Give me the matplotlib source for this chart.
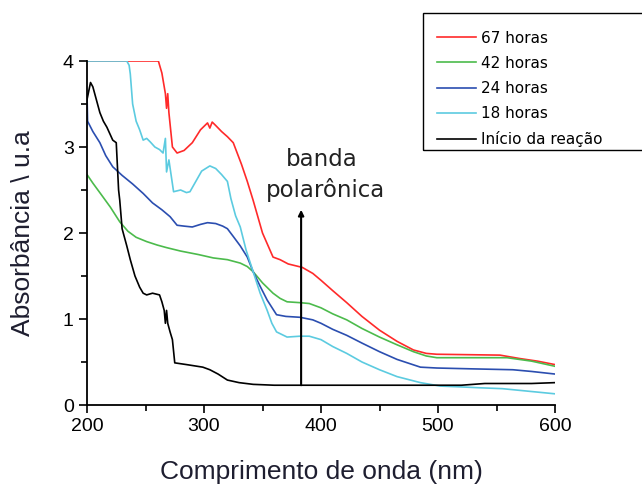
import matplotlib.pyplot as plt
from matplotlib.ticker import MultipleLocator
from matplotlib.patches import Rectangle

# absorbance spectra at different reaction times
x67 = [200, 261, 264, 267, 268, 269, 270, 273, 277, 283, 290, 297, 303, 305, 307, 310, 315, 320, 325, 332, 337,
       342, 350, 359, 365, 372, 384, 393, 400, 410, 422, 435, 450, 465, 479, 490, 499, 553, 570, 585, 600]
y67 = [4.0, 4.0, 3.86, 3.62, 3.45, 3.62, 3.4, 3.0, 2.93, 2.96, 3.05, 3.2, 3.28, 3.22, 3.29, 3.25, 3.18, 3.12, 3.05, 2.8, 2.6,
       2.38, 2.0, 1.72, 1.69, 1.64, 1.6, 1.53, 1.45, 1.33, 1.19, 1.03, 0.87, 0.74, 0.64, 0.6, 0.59, 0.58, 0.54, 0.51, 0.47]

x42 = [200, 205, 212, 220, 228, 235, 242, 251, 260, 268, 280, 295, 308, 320, 331, 337, 342, 350, 359, 365, 371, 382,
       390, 400, 410, 422, 435, 450, 465, 479, 490, 499, 530, 559, 580, 600]
y42 = [2.68, 2.58, 2.45, 2.3, 2.13, 2.02, 1.95, 1.9, 1.86, 1.83, 1.79, 1.75, 1.71, 1.69, 1.65, 1.61, 1.55, 1.42, 1.3, 1.24, 1.2, 1.19,
       1.18, 1.13, 1.06, 0.99, 0.89, 0.79, 0.7, 0.62, 0.57, 0.55, 0.55, 0.55, 0.51, 0.45]

x24 = [200, 200.5, 205, 211, 216, 222, 230, 239, 248, 256, 264, 271, 277, 283, 290, 297, 303, 310, 316, 320, 325, 331,
       337, 342, 348, 354, 362, 370, 382, 393, 400, 410, 422, 435, 450, 465, 485, 499, 530, 564, 580, 600]
y24 = [3.62, 3.3, 3.18, 3.05, 2.9, 2.77, 2.67, 2.57, 2.46, 2.35, 2.27, 2.19, 2.09, 2.08, 2.07, 2.1, 2.12, 2.11, 2.08, 2.05, 1.96, 1.85,
       1.72, 1.55, 1.38, 1.22, 1.05, 1.03, 1.02, 0.99, 0.95, 0.88, 0.81, 0.72, 0.62, 0.53, 0.44, 0.43, 0.42, 0.41, 0.39, 0.36]

x18 = [200, 234, 236, 237, 239, 242, 245, 248, 251, 254, 258, 262, 265, 267, 268, 270, 274, 280, 285, 288, 293, 298,
       305, 310, 315, 320, 323, 327, 331, 336, 342, 348, 354, 358, 362, 371, 382, 390, 400, 410, 422, 435, 450, 465,
       485, 502, 520, 536, 555, 570, 585, 600]
y18 = [4.0, 4.0, 3.95, 3.85, 3.5, 3.3, 3.2, 3.08, 3.1, 3.06, 3.0, 2.97, 2.93, 3.1, 2.71, 2.85, 2.48, 2.5, 2.47, 2.48, 2.6, 2.72,
       2.78, 2.75, 2.68, 2.6, 2.4, 2.2, 2.07, 1.8, 1.55, 1.3, 1.1, 0.95, 0.85, 0.79, 0.8, 0.8, 0.76, 0.68, 0.6, 0.5, 0.41, 0.33,
       0.26, 0.22, 0.21, 0.2, 0.19, 0.17, 0.15, 0.13]

x0 = [200, 203, 205, 208, 211, 214, 217, 222, 225, 227, 228, 230, 234, 237, 241, 245, 248, 251, 256, 262, 264, 266,
      267, 268, 269, 271, 273, 275, 285, 299, 305, 312, 320, 330, 342, 360, 400, 450, 500, 520, 540, 560, 580, 600]
y0 = [3.55, 3.75, 3.7, 3.55, 3.4, 3.3, 3.23, 3.08, 3.05, 2.5, 2.38, 2.05, 1.85, 1.69, 1.5, 1.37, 1.3, 1.28, 1.3, 1.28, 1.2, 1.1,
      0.95, 1.1, 0.95, 0.85, 0.76, 0.49, 0.47, 0.44, 0.41, 0.36, 0.29, 0.26, 0.24, 0.23, 0.23, 0.23, 0.23, 0.23, 0.25, 0.25, 0.25, 0.26]

labels = ['67 horas', '42 horas', '24 horas', '18 horas', 'Início da reação']
colors = ['#ff2a2a', '#4cbb4c', '#2b4eb0', '#5ccbe0', 'black']

band_x = 383
band_base, band_top = 0.23, 2.27

plt.rcParams['font.family'] = ['Liberation Sans', 'DejaVu Sans']

fig = plt.figure(figsize=(6.42, 4.86), dpi=100)
ax = fig.add_axes([87/642, 81/486, 468/642, 344/486])

series = [(x67, y67), (x42, y42), (x24, y24), (x18, y18), (x0, y0)]
for (xs, ys), lab, c in zip(series, labels, colors):
    ax.plot(xs, ys, color=c, lw=1.2, label=lab)

# arrow marking the polaron band
ax.annotate('', xy=(band_x, band_top), xytext=(band_x, band_base),
            arrowprops=dict(arrowstyle='-|>', color='black', lw=1.5, mutation_scale=8, shrinkA=0, shrinkB=0))
ax.text(401, 2.78, 'banda', ha='center', va='baseline', fontsize=16.5, family='DejaVu Sans', color='#222222')
ax.text(404, 2.42, 'polarônica', ha='center', va='baseline', fontsize=16.5, family='DejaVu Sans', color='#222222')

ax.set_xlim(200, 600)
ax.set_ylim(0, 4)
ax.xaxis.set_major_locator(MultipleLocator(100))
ax.xaxis.set_minor_locator(MultipleLocator(50))
ax.yaxis.set_major_locator(MultipleLocator(1))
ax.yaxis.set_minor_locator(MultipleLocator(0.5))
ax.tick_params(which='major', length=6, width=1.2, labelsize=14, direction='out')
ax.tick_params(which='minor', length=4, width=1.2, direction='out')
for loc in ['top', 'right']:
    ax.spines[loc].set_visible(False)
for loc in ['left', 'bottom']:
    ax.spines[loc].set_linewidth(1.3)

ax.set_xlabel('Comprimento de onda (nm)', fontsize=19, color='#1e1e30', labelpad=18)
ax.set_ylabel('Absorbância \\ u.a', fontsize=19, color='#1e1e30', labelpad=20)

# legend box runs past the right edge of the figure
fig.patches.append(Rectangle((423/642, 1 - 150/486), 0.5, 137/486, transform=fig.transFigure,
                             fill=False, edgecolor='black', lw=1.0))
leg = fig.legend(loc='upper left', bbox_to_anchor=(426/642, 1 - 20/486),
                 prop={'family': 'DejaVu Sans', 'size': 11},
                 handlelength=2.6, handletextpad=0.3, labelspacing=0.66, borderpad=0.2,
                 frameon=False)

fig.savefig('out.png', dpi=100)
